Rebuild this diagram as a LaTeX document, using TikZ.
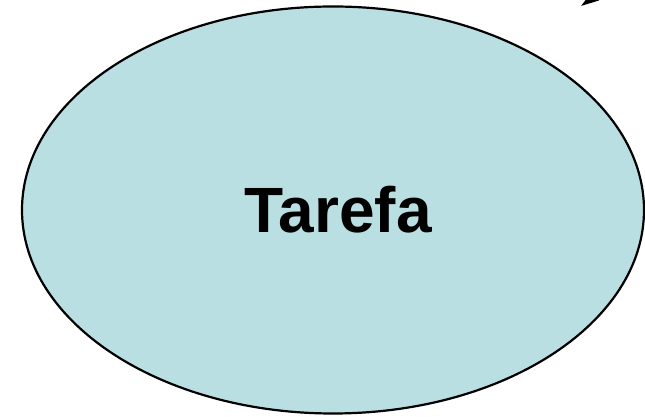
\documentclass[tikz,border=0pt]{standalone}
\usepackage{fontspec}
\setmainfont{Liberation Sans}
\usetikzlibrary{arrows.meta, shapes.geometric}
\definecolor{ink}{HTML}{000000}
\definecolor{taskfill}{HTML}{B9DFE3}

\begin{document}
\begin{tikzpicture}[
  x=1pt, y=1pt,
  task/.style={ellipse, draw=ink, fill=taskfill, line width=2.2pt,
               minimum width=622pt, minimum height=407pt, inner sep=0pt,
               font=\fontsize{64}{70}\selectfont\bfseries},
  arr/.style={-{Triangle[length=18pt, width=11pt]}, line width=2pt, draw=ink}
]
\clip (0,0) rectangle (645,417);
\useasboundingbox (0,0) rectangle (645,417);
\node[task] (tarefa) at (333,207) {\hspace*{10pt}Tarefa};
% arrow coming in from above, cut by the frame
\coordinate (src) at (614,434);
\coordinate (tip) at (581,411);
\draw[arr] (src) -- (tip);
\end{tikzpicture}
\end{document}
